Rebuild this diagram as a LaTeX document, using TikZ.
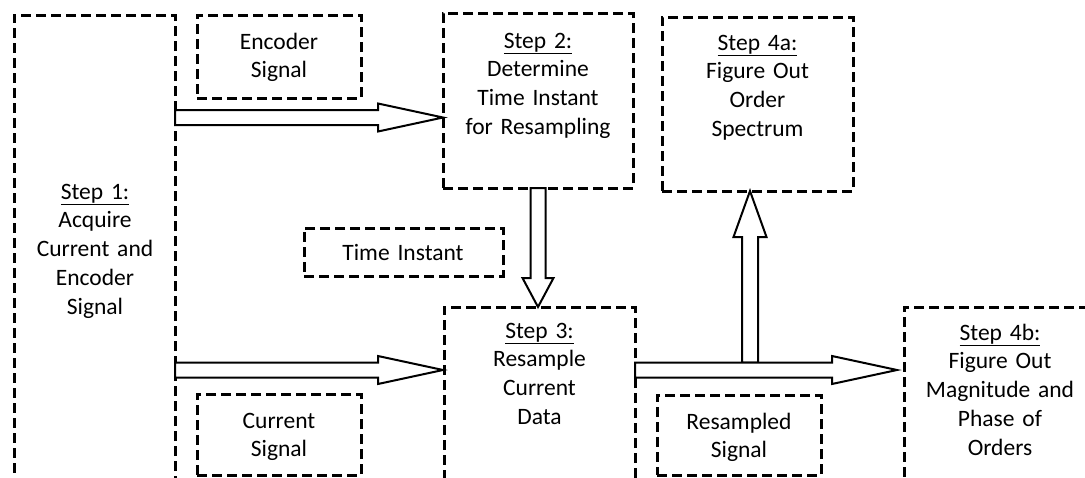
\documentclass[tikz,border=0pt]{standalone}
\usepackage{fontspec}
\setmainfont{Carlito}
\usetikzlibrary{calc}
\tikzset{
  box/.style={draw, line width=3pt, dash pattern=on 10pt off 5pt, inner sep=0pt, outer sep=0pt, anchor=north west},
  txt/.style={font=\fontsize{23.5}{28.8}\selectfont, align=center, text width=220pt, inner sep=0pt, anchor=base},
  barrow/.style={draw, line width=2pt, fill=white, line join=miter},
}
% block arrow: #1 start, #2 tip, #3 head length, #4 shaft half width, #5 head half width
\newcommand\BArr[5]{%
  \coordinate (hh) at ($(#2)!#3!(#1)$);
  \draw[barrow] ($(#1)!#4!90:(#2)$) -- ($(hh)!#4!-90:(#1)$) -- ($(hh)!#5!-90:(#1)$) -- (#2)
    -- ($(hh)!#5!90:(#1)$) -- ($(hh)!#4!90:(#1)$) -- ($(#1)!#4!-90:(#2)$) -- cycle;
}
\begin{document}
\begin{tikzpicture}[x=1pt, y=-1pt]
\useasboundingbox (0,0) rectangle (1085,477);
\clip (0,0) rectangle (1085,477);
% boxes
\node[box, minimum width=161pt, minimum height=475pt] (s1) at (14,15) {};
\node[box, minimum width=164pt, minimum height=83pt] (enc) at (197,15) {};
\node[box, minimum width=190pt, minimum height=175pt] (s2) at (443,13) {};
\node[box, minimum width=191pt, minimum height=174pt] (s4a) at (662,17) {};
\node[box, minimum width=199pt, minimum height=48pt] (ti) at (304,228) {};
\node[box, minimum width=191pt, minimum height=190pt] (s3) at (444,307) {};
\node[box, minimum width=164pt, minimum height=81pt] (cur) at (197,394) {};
\node[box, minimum width=164pt, minimum height=80pt] (res) at (657,395) {};
\node[box, minimum width=200pt, minimum height=190pt] (s4b) at (904,307) {};
% texts
\node[txt] (t1) at (95,199) {\underline{Step 1:}\\Acquire\\Current and\\Encoder\\Signal};
\node[txt] (tenc) at (279,49) {Encoder\\Signal};
\node[txt] (t2) at (538,48) {\underline{Step 2:}\\Determine\\Time Instant\\for Resampling};
\node[txt] (t4a) at (757.5,50) {\underline{Step 4a:}\\Figure Out\\Order\\Spectrum};
\node[txt] (tti) at (403,260) {Time Instant};
\node[txt] (t3) at (539.5,338) {\underline{Step 3:}\\Resample\\Current\\Data};
\node[txt] (tcur) at (279,428) {Current\\Signal};
\node[txt] (tres) at (739,429) {Resampled\\Signal};
\node[txt] (t4b) at (1000,340) {\underline{Step 4b:}\\Figure Out\\Magnitude and\\Phase of\\Orders};
% arrow end points
\coordinate (a1s) at (s1.east |- 0,117.5);
\coordinate (a1t) at (s2.west |- 0,117.5);
\coordinate (a2s) at (s1.east |- 0,370);
\coordinate (a2t) at (s2.west |- 0,370);
\coordinate (a3s) at (s3.east |- 0,370);
\coordinate (a3t) at ([xshift=-7pt]s4b.west |- 0,370);
\coordinate (dts) at (s2.south);
\coordinate (dtt) at (s2.south |- s3.north);
\coordinate (junc) at (750,362.5);
\coordinate (upt) at (junc |- s4a.south);
% arrows
\BArr{a1s}{a1t}{65pt}{7.5pt}{14pt}
\BArr{a2s}{a2t}{65pt}{7.5pt}{14pt}
\BArr{dts}{dtt}{29pt}{7.5pt}{15.5pt}
\BArr{junc}{upt}{46pt}{8pt}{16.5pt}
\BArr{a3s}{a3t}{65pt}{7.5pt}{14pt}
\end{tikzpicture}
\end{document}
